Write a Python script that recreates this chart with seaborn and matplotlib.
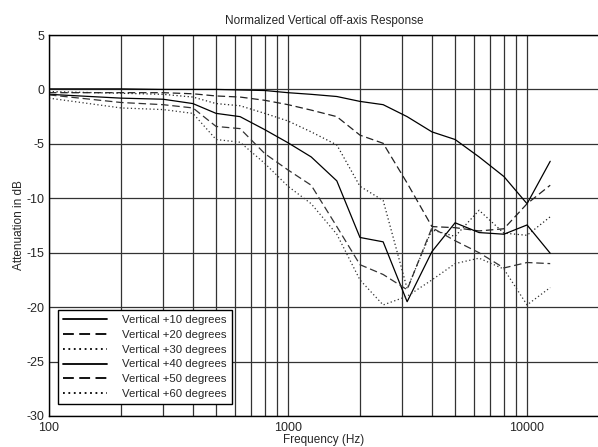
import numpy as np
import pandas as pd
import matplotlib
matplotlib.use('Agg')
import matplotlib.pyplot as plt
from matplotlib.ticker import FixedLocator, NullFormatter
import seaborn as sns

# 1/3-octave frequencies (Hz)
freqs = [100, 200, 300, 400, 500, 630, 800, 1000, 1250, 1600,
         2000, 2500, 3150, 4000, 5000, 6300, 8000, 10000, 12500]

# attenuation in dB
vert_10 = [0.05, 0.05, 0.0, 0.0, 0.0, -0.05, -0.1, -0.3, -0.45, -0.65,
           -1.1, -1.4, -2.5, -3.9, -4.6, -6.2, -8.0, -10.5, -6.6]
vert_20 = [-0.3, -0.3, -0.3, -0.4, -0.6, -0.7, -1.0, -1.4, -1.9, -2.5,
           -4.2, -4.95, -8.6, -12.6, -12.7, -13.0, -12.8, -10.5, -8.8]
vert_30 = [-0.2, -0.35, -0.45, -0.7, -1.3, -1.5, -2.2, -2.9, -3.9, -5.1,
           -8.9, -10.2, -18.3, -12.9, -13.5, -11.1, -13.2, -13.4, -11.7]
vert_40 = [-0.45, -0.8, -0.9, -1.3, -2.2, -2.5, -3.7, -4.9, -6.2, -8.4,
           -13.6, -14.0, -19.5, -14.9, -12.25, -13.15, -13.3, -12.45, -15.05]
vert_50 = [-0.5, -1.2, -1.4, -1.7, -3.4, -3.6, -5.9, -7.4, -8.8, -12.6,
           -16.1, -17.0, -18.4, -12.7, -13.9, -15.0, -16.4, -15.9, -16.0]
vert_60 = [-0.8, -1.7, -1.85, -2.2, -4.6, -4.85, -6.8, -8.9, -10.5, -13.3,
           -17.5, -19.8, -19.0, -17.5, -16.0, -15.5, -16.5, -19.8, -18.2]

labels = ['Vertical +10 degrees', 'Vertical +20 degrees', 'Vertical +30 degrees',
          'Vertical +40 degrees', 'Vertical +50 degrees', 'Vertical +60 degrees']
series = [vert_10, vert_20, vert_30, vert_40, vert_50, vert_60]
styles = ['-', (0, (6, 3)), (0, (1, 2)), '-', (0, (6, 3)), (0, (1, 2))]
colors = ['black', '#222222', '#222222', 'black', '#333333', '#333333']

sns.set_style('white')
plt.rcParams['font.family'] = ['Liberation Sans', 'DejaVu Sans']
plt.rcParams['axes.unicode_minus'] = False

fig = plt.figure(figsize=(5.98, 4.47), dpi=100)
ax = fig.add_axes([49 / 598, 31 / 447, 550 / 598, 381 / 447])

for vals, lab, ls, c in zip(series, labels, styles, colors):
    sns.lineplot(x=freqs, y=vals, ax=ax, label=lab, color=c,
                 linestyle=ls, linewidth=0.9, estimator=None, sort=False)

ax.set_xscale('log')
ax.set_xlim(100, 20000)
ax.set_ylim(-30, 5)

ax.xaxis.set_major_locator(FixedLocator([100, 1000, 10000]))
ax.set_xticklabels(['100', '1000', '10000'])
minor_x = [m * d for d in (100, 1000) for m in range(2, 10)]
ax.xaxis.set_minor_locator(FixedLocator(minor_x))
ax.xaxis.set_minor_formatter(NullFormatter())
ax.tick_params(axis='x', which='both', length=0, labelsize=9, pad=4)

ax.yaxis.set_major_locator(FixedLocator(np.arange(-30, 6, 5)))
ax.yaxis.set_minor_locator(FixedLocator(np.arange(-30, 6, 1)))
ax.tick_params(axis='y', which='major', direction='in', length=4, width=0.8,
               labelsize=9, pad=3)
ax.tick_params(axis='y', which='minor', direction='in', length=3, width=0.8)

ax.grid(True, which='major', axis='both', color='#333333', linewidth=0.9)
ax.grid(True, which='minor', axis='x', color='#333333', linewidth=0.9)

for sp in ax.spines.values():
    sp.set_color('black')
    sp.set_linewidth(1.0)

ax.set_title('Normalized Vertical off-axis Response', fontsize=8.5, pad=8)
ax.set_ylabel('Attenuation in dB', fontsize=8.5, labelpad=1)
ax.set_xlabel('Frequency (Hz)', fontsize=8.5, labelpad=0)

leg = ax.legend(loc='lower left', bbox_to_anchor=(0.016, 0.031), borderaxespad=0,
                fontsize=8.2, handlelength=3.9, labelspacing=0.42,
                handletextpad=1.3, borderpad=0.45, fancybox=False, framealpha=1)
leg.get_frame().set_edgecolor('black')
leg.get_frame().set_linewidth(1.0)
for line in leg.get_lines():
    line.set_linewidth(1.3)
    line.set_color('black')

fig.savefig('out.png', dpi=100)
